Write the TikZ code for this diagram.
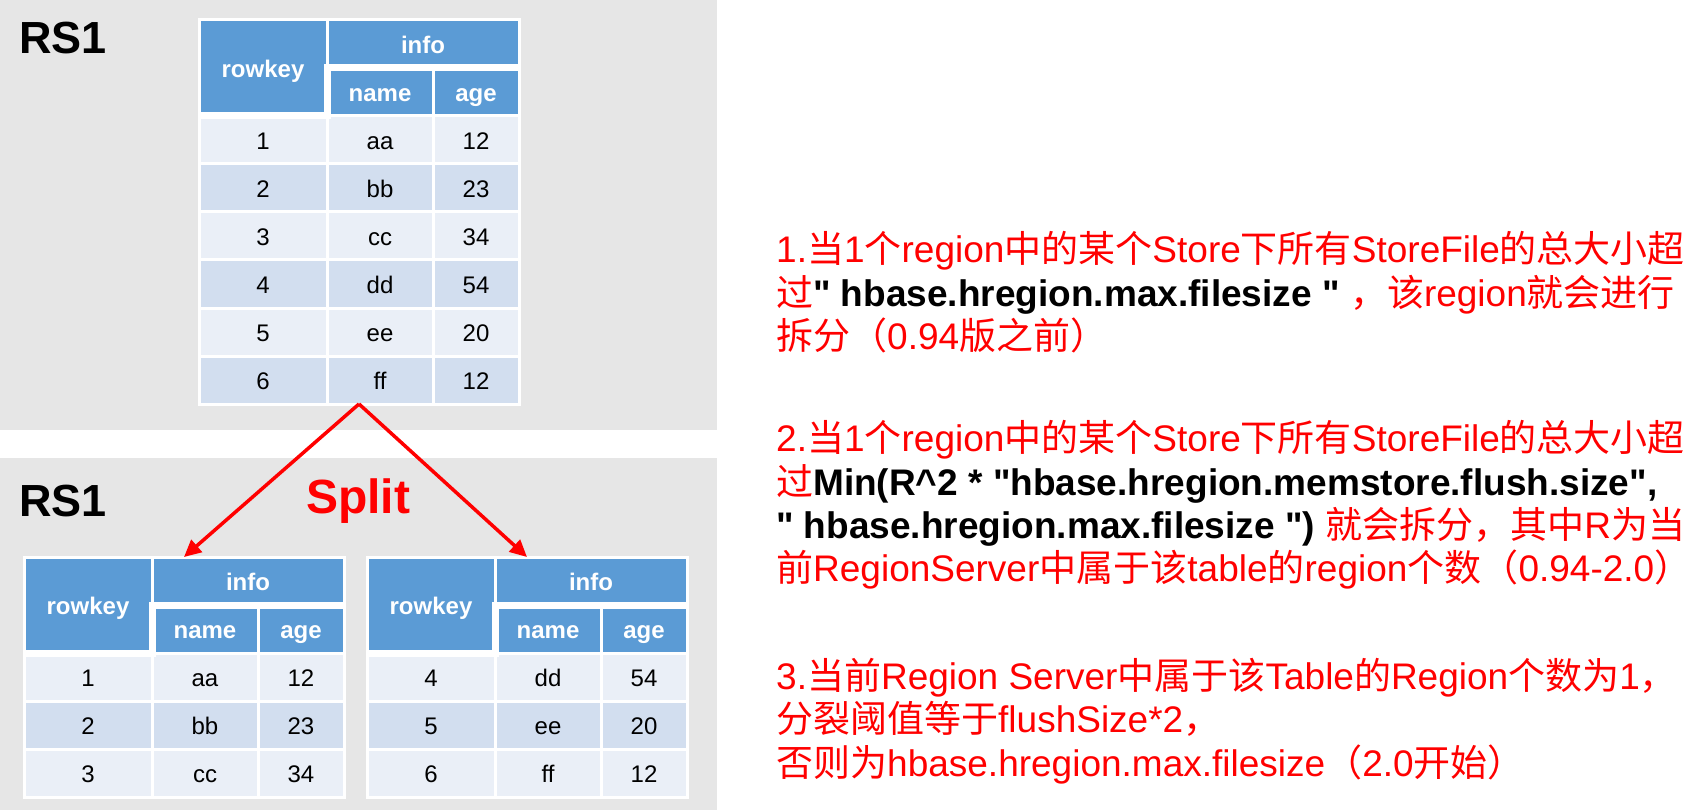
\documentclass[tikz,border=0pt]{standalone}
\usepackage{fontspec}
\setmainfont{Liberation Sans}[Ligatures=TeXOff]
\newfontfamily\cjk{Noto Sans CJK SC}
\usetikzlibrary{arrows.meta}
\newcommand\zh[1]{{\cjk #1}}
\definecolor{bgc}{HTML}{E6E6E6}
\definecolor{hblue}{HTML}{5B9BD5}
\definecolor{rowA}{HTML}{EAEFF7}
\definecolor{rowB}{HTML}{D2DEEF}
\tikzset{
  cellbase/.style={anchor=north west, inner sep=0pt, outer sep=0pt, draw=white, line width=3pt,
                   text height=20pt, text depth=1pt,
                   font=\fontsize{24}{28}\selectfont, text=black},
  hdr/.style={cellbase, fill=hblue, text=white, font=\bfseries\fontsize{24}{28}\selectfont},
  rowAst/.style={cellbase, fill=rowA, minimum height=48pt},
  rowBst/.style={cellbase, fill=rowB, minimum height=48pt},
  tabframe/.style={anchor=north west, inner sep=0pt, outer sep=0pt, draw=white, line width=3pt, minimum width=320pt},
  rslabel/.style={anchor=base west, inner sep=0pt, font=\bfseries\fontsize{45}{50}\selectfont, text=black},
  splitarr/.style={draw=red, line width=3.5pt, -{Triangle[length=17pt,width=16pt]}},
  note/.style={anchor=base west, inner sep=0pt, text=red, font=\fontsize{37}{44}\selectfont}
}
\newcommand\bk[1]{{\bfseries\color{black}#1}}
% name, x, y, total height, data
\newcommand\hbtab[5]{%
\begin{scope}[shift={(#2,#3)}]
  \node[hdr, minimum width=128pt, minimum height=96pt] (#1-rk) at (0,0) {rowkey};
  \node[hdr, minimum width=192pt, minimum height=48pt] (#1-info) at (128,0) {info};
  \node[hdr, minimum width=106pt, minimum height=48pt] (#1-name) at (128,48) {name};
  \node[hdr, minimum width=86pt, minimum height=48pt] (#1-age) at (234,48) {age};
  \foreach \ka/\kb/\kc [count=\i] in {#5} {
    \pgfmathsetmacro\yy{96+48*(\i-1)}
    \pgfmathtruncatemacro\od{mod(\i,2)}
    \ifnum\od=1 \def\rs{rowAst}\else\def\rs{rowBst}\fi
    \node[\rs, minimum width=128pt] (#1-\i-1) at (0,\yy) {\ka};
    \node[\rs, minimum width=106pt] (#1-\i-2) at (128,\yy) {\kb};
    \node[\rs, minimum width=86pt] (#1-\i-3) at (234,\yy) {\kc};
  }
  \draw[white, line width=7pt] (0,96) -- (128,96) -- (128,48) -- (320,48);
  \node[tabframe, minimum height=#4pt] (#1) at (0,0) {};
\end{scope}}
\begin{document}
\begin{tikzpicture}[x={(1pt,0)}, y={(0,-1pt)}]
\useasboundingbox (0,0) rectangle (1702,810);
\fill[bgc] (0,0) rectangle (717,430);
\fill[bgc] (0,458) rectangle (717,810);

\node[rslabel] (rsA) at (19,54) {RS1};
\node[rslabel] (rsB) at (19,516) {RS1};

\hbtab{T0}{199}{20}{384}{1/aa/12,2/bb/23,3/cc/34,4/dd/54,5/ee/20,6/ff/12}
\hbtab{T1}{24}{557}{240}{1/aa/12,2/bb/23,3/cc/34}
\hbtab{T2}{367}{557}{240}{4/dd/54,5/ee/20,6/ff/12}

\draw[splitarr] (T0.south) -- (T1.north);
\draw[splitarr] (T0.south) -- (T2.north);
\node[anchor=base west, inner sep=0pt, font=\bfseries\fontsize{48}{52}\selectfont, text=red] (split) at (306,513) {Split};

\node[note] (l1) at (776,262.7) {1.\zh{当}1\zh{个}region\zh{中的某个}Store\zh{下所有}StoreFile\zh{的总大小超}};
\node[note] (l2) at (776,306) {\zh{过}\bk{" hbase.hregion.max.filesize "} \zh{，该}region\zh{就会进行}};
\node[note] (l3) at (776,349.3) {\zh{拆分（}0.94\zh{版之前）}};

\node[note] (l4) at (776,451.7) {2.\zh{当}1\zh{个}region\zh{中的某个}Store\zh{下所有}StoreFile\zh{的总大小超}};
\node[note] (l5) at (776,495) {\zh{过}\bk{Min(R\textasciicircum 2 * "hbase.hregion.memstore.flush.size",}};
\node[note] (l6) at (776,538.3) {\bk{" hbase.hregion.max.filesize ")} \zh{就会拆分，其中}R\zh{为当}};
\node[note] (l7) at (776,581.7) {\zh{前}RegionServer\zh{中属于该}table\zh{的}region\zh{个数（}0.94-2.0\zh{）}};

\node[note] (l8) at (776,689.3) {3.\zh{当前}Region Server\zh{中属于该}Table\zh{的}Region\zh{个数为}1\zh{，}};
\node[note] (l9) at (776,732.6) {\zh{分裂阈值等于}flushSize*2\zh{，}};
\node[note] (l10) at (776,776) {\zh{否则为}hbase.hregion.max.filesize\zh{（}2.0\zh{开始）}};
\end{tikzpicture}
\end{document}
